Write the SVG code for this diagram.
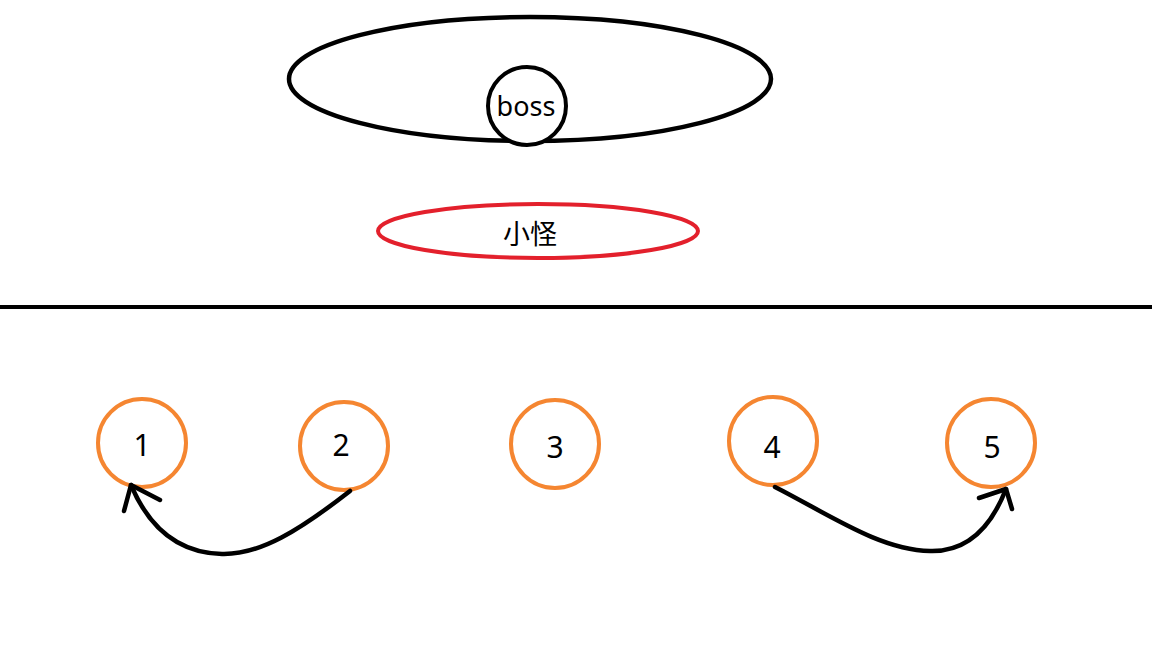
<svg xmlns="http://www.w3.org/2000/svg" width="1152" height="648" viewBox="0 0 1152 648">
<style>
.lbl{font-family:"Noto Sans","Noto Sans CJK SC",sans-serif;font-size:30px;fill:#000;text-anchor:middle;dominant-baseline:central}
.num{fill:none;stroke:#f58631;stroke-width:4}
.conn{fill:none;stroke:#000;stroke-width:4.5;stroke-linecap:round;stroke-linejoin:round}
</style>
<rect width="1152" height="648" fill="#fff"/>
<g id="boss-area">
<ellipse cx="530" cy="79" rx="241" ry="62" fill="none" stroke="#000" stroke-width="4.5"/>
</g>
<g id="boss">
<circle cx="527" cy="106" r="39" fill="#fff" stroke="#000" stroke-width="4"/>
<text class="lbl" x="526" y="105" style="font-size:27px">boss</text>
</g>
<g id="minion">
<ellipse cx="538" cy="231" rx="160" ry="27" fill="none" stroke="#e3202c" stroke-width="4"/>
<text class="lbl" x="530" y="232" style="font-size:27px;font-family:'Noto Sans CJK SC',sans-serif">小怪</text>
</g>
<g id="divider">
<line x1="0" y1="307" x2="1152" y2="307" stroke="#000" stroke-width="4"/>
</g>
<g id="n1"><circle class="num" cx="142" cy="443" r="44"/><text class="lbl" x="142" y="444">1</text></g>
<g id="n2"><circle class="num" cx="344" cy="446" r="44"/><text class="lbl" x="341" y="444">2</text></g>
<g id="n3"><circle class="num" cx="555" cy="444" r="44"/><text class="lbl" x="555" y="446">3</text></g>
<g id="n4"><circle class="num" cx="773" cy="441" r="44"/><text class="lbl" x="772" y="446">4</text></g>
<g id="n5"><circle class="num" cx="991" cy="443" r="44"/><text class="lbl" x="992" y="446">5</text></g>
<g id="connectors">
<path class="conn" d="M350,491 C300,530 260,555 222,554 C180,553 150,530 131,485"/>
<path class="conn" d="M124,511 L131,485 L160,500"/>
<path class="conn" d="M775,487 C830,515 880,550 930,551 C965,552 990,530 1006,489"/>
<path class="conn" d="M979,498 L1006,489 L1012,509"/>
</g>
</svg>
